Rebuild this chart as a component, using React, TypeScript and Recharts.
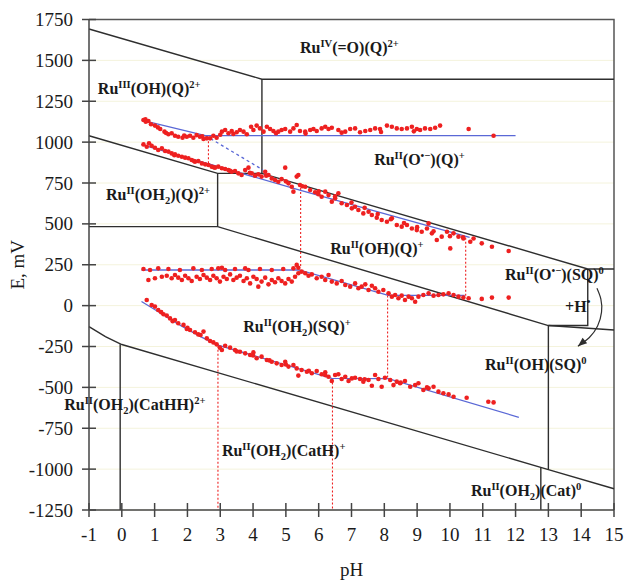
import React from 'react';
import { ComposedChart, XAxis, YAxis, Line, Scatter, CartesianGrid, Label } from 'recharts';

type P = [number, number];

// ---- red experimental points (pH, E mV) ----
const bandUpperHigh: P[] = [
  [0.66,1135],[0.72,1140],[0.73,1125],[0.81,1129],[0.89,1109],[1.01,1101],[1.10,1090],[1.17,1080],[1.30,1064],[1.35,1056],
  [1.42,1048],[1.52,1054],[1.62,1039],[1.72,1033],[1.85,1027],[1.90,1040],[1.98,1033],[2.08,1039],[2.18,1027],[2.28,1043],
  [2.38,1033],[2.45,1036],[2.49,1019],[2.59,1023],
  [2.69,1023],[2.79,1039],[2.89,1027],[3.00,1045],[3.05,1064],[3.15,1074],[3.25,1054],[3.35,1068],[3.40,1050],[3.50,1060],
  [3.60,1074],[3.71,1064],[3.81,1048],[3.94,1094],[4.01,1074],[4.11,1101],[4.21,1084],[4.32,1064],[4.42,1094],[4.52,1080],
  [4.62,1068],[4.70,1055],[4.77,1064],[4.87,1074],[4.98,1080],[5.13,1064],[5.23,1084],[5.33,1105],[5.43,1068],[5.59,1064],
  [5.60,1052],[5.74,1074],[5.84,1080],[5.94,1068],[6.09,1084],[6.20,1094],[6.30,1080],[6.40,1088],[6.60,1074],[6.70,1058],
  [6.81,1064],[6.96,1080],[7.11,1084],[7.26,1060],[7.42,1068],[7.57,1074],[7.72,1084],[7.87,1080],[7.90,1062],[8.08,1101],
  [8.23,1094],[8.38,1084],[8.53,1080],[8.69,1084],[8.84,1094],[8.90,1066],[8.99,1080],[9.09,1074],[9.24,1084],[9.40,1080],
  [9.55,1088],[9.70,1101],[10.57,1080],[11.33,1039],
];

const bandUpperLow: P[] = [
  [0.66,986],[0.76,972],[0.83,993],[0.91,978],[1.01,966],[1.11,952],[1.22,962],[1.32,946],[1.42,942],[1.52,931],
  [1.60,920],[1.62,925],[1.72,917],[1.83,911],[1.93,905],[2.03,901],[2.13,891],[2.20,885],[2.23,880],[2.33,884],
  [2.44,870],[2.54,864],[2.64,860],[2.74,850],[2.80,846],[2.84,844],[2.94,850],[3.05,840],[3.15,836],[3.25,829],
  [3.30,824],[3.35,819],[3.45,823],[3.55,809],[3.65,799],[3.76,829],[3.86,844],[3.90,812],[3.96,809],[4.06,795],
  [4.16,803],[4.26,789],[4.37,819],[4.40,795],[4.47,799],[4.57,778],[4.67,768],[4.77,758],[4.87,774],[4.98,844],
  [5.00,760],[5.08,748],[5.18,727],[5.23,697],[5.33,789],[5.38,799],[5.43,738],[5.50,730],[5.59,727],[5.74,707],
  [5.89,693],[5.99,681],[6.00,700],[6.09,666],[6.20,697],[6.30,676],[6.40,636],[6.50,656],[6.50,668],[6.60,687],
  [6.70,626],[6.86,615],[7.00,630],[7.01,595],[7.11,605],[7.21,585],[7.36,564],[7.40,598],[7.52,574],[7.62,554],
  [7.77,538],[7.80,560],[7.92,524],[8.08,513],[8.20,528],[8.23,534],[8.38,493],[8.53,483],[8.60,505],[8.69,493],
  [8.84,472],[8.99,462],[9.00,480],[9.14,452],[9.30,472],[9.35,503],[9.45,442],[9.50,455],[9.60,401],[9.75,422],
  [9.91,452],[10.00,425],[10.01,350],[10.11,442],[10.26,422],[10.40,418],[10.41,411],[10.62,391],[10.72,411],[10.97,381],
  [11.28,360],[11.79,334],
];

const bandMiddle: P[] = [
  [0.66,224],[0.86,218],[1.11,228],[1.42,224],[1.77,218],[2.18,228],[2.44,218],[2.74,224],[2.94,228],[3.05,232],
  [3.15,218],[3.45,224],[3.76,228],[3.86,218],[4.21,224],[4.57,218],[4.92,224],[5.23,228],[5.33,249],[5.38,232],
  [0.81,157],[1.01,167],[1.22,177],[1.37,183],[1.52,167],[1.62,187],[1.72,171],[1.83,157],[1.93,183],[2.03,167],
  [2.13,151],[2.28,177],[2.38,163],[2.49,187],[2.59,171],[2.69,157],[2.79,183],[2.89,167],[2.99,147],[3.10,177],
  [3.20,163],[3.30,191],[3.40,157],[3.50,171],[3.60,183],[3.71,151],[3.81,167],[3.91,136],[4.01,177],[4.11,163],
  [4.16,116],[4.26,147],[4.37,171],[4.47,130],[4.57,157],[4.67,143],[4.77,167],[4.87,151],[4.98,136],[5.08,163],
  [5.18,147],[5.28,177],[5.38,198],
  [5.48,208],[5.59,198],[5.69,183],[5.79,191],[5.94,167],[6.09,177],[6.20,157],[6.30,187],[6.40,147],[6.55,136],
  [6.70,151],[6.81,126],[6.96,116],[7.11,136],[7.21,106],[7.31,116],[7.42,130],[7.52,96],[7.62,122],[7.72,106],
  [7.82,85],[7.97,96],[8.13,75],[8.23,55],[8.33,65],[8.43,45],[8.53,61],[8.63,34],[8.74,55],[8.84,45],
  [8.94,24],[9.04,55],[9.19,65],[9.35,75],[9.50,61],[9.65,65],[9.80,69],[9.96,75],[10.11,65],[10.26,55],
  [10.41,49],[10.57,45],[10.97,41],[11.28,49],[11.79,49],
];

const bandLower: P[] = [
  [0.76,34],[0.91,4],[1.01,-6],[1.11,-27],[1.20,-40],[1.27,-53],[1.37,-61],[1.47,-78],[1.55,-95],[1.62,-88],
  [1.72,-108],[1.88,-118],[1.98,-143],[2.00,-135],[2.08,-149],[2.23,-163],[2.33,-176],[2.40,-180],[2.49,-159],[2.59,-200],
  [2.69,-216],[2.79,-225],[2.89,-237],[2.99,-257],[3.05,-271],[3.15,-245],[3.30,-257],[3.45,-271],[3.50,-280],[3.60,-282],
  [3.76,-292],[3.91,-302],[4.00,-305],[4.01,-286],[4.11,-322],[4.26,-312],[4.42,-333],[4.50,-335],[4.57,-343],[4.72,-353],
  [4.87,-363],[4.98,-343],[5.00,-360],[5.08,-373],[5.23,-363],[5.33,-384],[5.38,-428],[5.48,-394],[5.64,-404],[5.70,-398],
  [5.79,-414],[5.94,-400],[6.09,-420],[6.20,-408],[6.20,-425],[6.30,-435],[6.40,-461],[6.50,-424],[6.60,-420],[6.70,-449],
  [6.81,-435],[6.91,-461],[7.01,-445],[7.11,-441],[7.26,-449],[7.36,-465],[7.40,-450],[7.52,-455],[7.62,-490],[7.72,-424],
  [7.82,-449],[7.92,-496],[8.02,-441],[8.18,-455],[8.28,-486],[8.38,-465],[8.48,-475],[8.50,-470],[8.63,-461],[8.79,-496],
  [8.94,-486],[9.04,-475],[9.19,-516],[9.30,-500],[9.35,-506],[9.50,-496],[9.65,-526],[9.80,-536],[9.96,-543],[10.11,-557],
  [10.51,-563],[11.17,-588],[11.33,-592],
];

// ---- black boundary lines of the diagram ----
const boundaries: P[][] = [
  [[-1,1692],[4.27,1385],[15,1385]],
  [[4.27,1385],[4.27,809]],
  [[-1,1039],[2.92,809],[4.27,809],[14.2,224],[15,224]],
  [[2.92,809],[2.92,483]],
  [[-1,483],[2.92,483],[13.0,-122],[15,-149]],
  [[13.0,-122],[14.2,-122],[14.2,224]],
  [[13.0,-122],[13.0,-1003]],
  [[-1,-129],[-0.5,-190],[0,-238],[13.0,-1003],[15,-1120]],
  [[-0.05,-236],[-0.05,-1250]],
  [[12.77,-990],[12.77,-1250]],
];
const frame: P[] = [[-1,1750],[15,1750],[15,-1250]];

// ---- red dotted vertical lines ----
const dottedLines: P[][] = [
  [[2.64,1030],[2.64,855]],
  [[5.45,720],[5.45,238]],
  [[10.48,415],[10.48,58]],
  [[8.1,62],[8.1,-447]],
  [[2.93,-245],[2.93,-1250]],
  [[6.42,-445],[6.42,-1250]],
];

// ---- blue fit lines ----
const blueLines: P[][] = [
  [[0.6,1135],[2.55,1040],[12.0,1040]],
  [[0.6,985],[5.45,705],[10.6,418]],
  [[0.6,218],[5.4,218],[8.12,63],[10.45,63]],
  [[0.6,25],[1.2,-48],[1.8,-122],[2.4,-190],[2.9,-240],[6.4,-445],[8.12,-447],[12.1,-683]],
];
const blueDashed: P[] = [[2.55,1040],[4.3,830]];

// ---- curved arrow ----
const arrowPath: P[] = [[14.48,106],[14.6,40],[14.62,-40],[14.5,-125],[14.25,-195],[13.9,-248]];
const arrowTip: P[] = [[13.9,-248]];

const xTicks = [-1,0,1,2,3,4,5,6,7,8,9,10,11,12,13,14,15];
const yTicks = [-1250,-1000,-750,-500,-250,0,250,500,750,1000,1250,1500,1750];

type Part = [string, '' | 'sup' | 'sub'];
const regionLabels: { pH: number; E: number; anchor: 'start' | 'end'; parts: Part[] }[] = [
  { pH: 5.43, E: 1578, anchor: 'start', parts: [['Ru',''],['IV','sup'],['(=O)(Q)',''],['2+','sup']] },
  { pH: -0.73, E: 1325, anchor: 'start', parts: [['Ru',''],['III','sup'],['(OH)(Q)',''],['2+','sup']] },
  { pH: 7.69, E: 891, anchor: 'start', parts: [['Ru',''],['II','sup'],['(O',''],['•−','sup'],[')(Q)',''],['+','sup']] },
  { pH: -0.48, E: 677, anchor: 'start', parts: [['Ru',''],['II','sup'],['(OH',''],['2','sub'],[')(Q)',''],['2+','sup']] },
  { pH: 6.35, E: 345, anchor: 'start', parts: [['Ru',''],['II','sup'],['(OH)(Q)',''],['+','sup']] },
  { pH: 11.68, E: 187, anchor: 'start', parts: [['Ru',''],['II','sup'],['(O',''],['•−','sup'],[')(SQ)',''],['0','sup']] },
  { pH: 13.51, E: -6, anchor: 'start', parts: [['+H',''],['•','sup']] },
  { pH: 11.07, E: -363, anchor: 'start', parts: [['Ru',''],['II','sup'],['(OH)(SQ)',''],['0','sup']] },
  { pH: 3.7, E: -129, anchor: 'start', parts: [['Ru',''],['II','sup'],['(OH',''],['2','sub'],[')(SQ)',''],['+','sup']] },
  { pH: 2.55, E: -608, anchor: 'end', parts: [['Ru',''],['II','sup'],['(OH',''],['2','sub'],[')(CatHH)',''],['2+','sup']] },
  { pH: 3.05, E: -887, anchor: 'start', parts: [['Ru',''],['II','sup'],['(OH',''],['2','sub'],[')(CatH)',''],['+','sup']] },
  { pH: 10.64, E: -1132, anchor: 'start', parts: [['Ru',''],['II','sup'],['(OH',''],['2','sub'],[')(Cat)',''],['0','sup']] },
];

const toPts = (a: P[]) => a.map(([pH, E]) => ({ pH, E }));

const SERIF = "'Liberation Serif', 'Times New Roman', serif";
const AXIS = '#444';
const BLACK = '#2e2e2e';
const RED = '#ee2020';
const BLUE = '#5a68d6';

const renderParts = (parts: Part[], fs: number) => {
  let shift = 0;
  return parts.map(([t, k], i) => {
    const target = k === 'sup' ? -fs * 0.4 : k === 'sub' ? fs * 0.25 : 0;
    const dy = target - shift;
    shift = target;
    return (
      <tspan key={i} dy={dy} fontSize={k ? fs * 0.66 : fs}>
        {t}
      </tspan>
    );
  });
};

const LabelShape = (props: any) => {
  const { cx, cy, payload } = props;
  const fs = 16;
  return (
    <text
      x={cx}
      y={cy + fs * 0.33}
      textAnchor={payload.anchor}
      fontFamily={SERIF}
      fontWeight="bold"
      fontSize={fs}
      fill="#1a1a1a"
    >
      {renderParts(payload.parts, fs)}
    </text>
  );
};

const Dot = (props: any) => <circle cx={props.cx} cy={props.cy} r={2.3} fill={RED} />;

const ArrowHead = (props: any) => {
  const { cx, cy } = props;
  const ang = Math.atan2(9, -11);
  const back = 9;
  const half = 3.6;
  const bx = cx - Math.cos(ang) * back;
  const by = cy - Math.sin(ang) * back;
  const px = -Math.sin(ang) * half;
  const py = Math.cos(ang) * half;
  return <polygon points={`${cx},${cy} ${bx + px},${by + py} ${bx - px},${by - py}`} fill={BLACK} />;
};

const XTick = (props: any) => {
  const { x, y, payload } = props;
  return (
    <g>
      <line x1={x} x2={x} y1={y - 7} y2={y + 7} stroke={AXIS} strokeWidth={1.5} />
      <text x={x} y={y + 31} textAnchor="middle" fontFamily={SERIF} fontSize={19} fill="#1a1a1a">
        {payload.value}
      </text>
    </g>
  );
};

const YTick = (props: any) => {
  const { x, y, payload } = props;
  return (
    <g>
      <line x1={x - 7} x2={x + 7} y1={y} y2={y} stroke={AXIS} strokeWidth={1.5} />
      <text x={x - 16} y={y + 6.5} textAnchor="end" fontFamily={SERIF} fontSize={19} fill="#1a1a1a">
        {payload.value}
      </text>
    </g>
  );
};

const YTitle = (props: any) => {
  const vb = props.viewBox || { x: 0, y: 0, width: 89, height: 490 };
  const cx = vb.x + 17;
  const cy = vb.y + vb.height / 2;
  return (
    <text x={cx} y={cy} transform={`rotate(-90 ${cx} ${cy})`} textAnchor="middle" dominantBaseline="central" fontFamily={SERIF} fontSize={19} fill="#1a1a1a">
      E, mV
    </text>
  );
};

const XTitle = (props: any) => {
  const vb = props.viewBox || { x: 89, y: 510, width: 525, height: 71 };
  const cx = vb.x + vb.width / 2;
  const cy = vb.y + 59;
  return (
    <text x={cx} y={cy} textAnchor="middle" dominantBaseline="central" fontFamily={SERIF} fontSize={19} fill="#1a1a1a">
      pH
    </text>
  );
};

export default function App() {
  return (
    <div style={{ position: 'absolute', left: 0, top: 0, background: '#fff' }}>
      <ComposedChart width={626} height={581} margin={{ top: 19.5, right: 12, bottom: 0, left: 0 }}>
        <CartesianGrid vertical={false} stroke="#f4f3dc" />
        <XAxis
          type="number"
          dataKey="pH"
          domain={[-1, 15]}
          ticks={xTicks}
          height={71}
          tickSize={0}
          tickMargin={0}
          tickLine={false}
          axisLine={{ stroke: AXIS, strokeWidth: 1.5 }}
          tick={<XTick />}
          interval={0}
        >
          <Label content={<XTitle />} />
        </XAxis>
        <YAxis
          type="number"
          dataKey="E"
          domain={[-1250, 1750]}
          ticks={yTicks}
          width={89}
          tickSize={0}
          tickMargin={0}
          tickLine={false}
          axisLine={{ stroke: AXIS, strokeWidth: 1.5 }}
          tick={<YTick />}
          interval={0}
        >
          <Label content={<YTitle />} />
        </YAxis>

        <Line data={toPts(frame)} dataKey="E" stroke="#555" strokeWidth={1.5} dot={false} activeDot={false} isAnimationActive={false} />
        {boundaries.map((b, i) => (
          <Line key={'b' + i} data={toPts(b)} dataKey="E" stroke={BLACK} strokeWidth={1.4} dot={false} activeDot={false} isAnimationActive={false} />
        ))}
        {dottedLines.map((b, i) => (
          <Line key={'d' + i} data={toPts(b)} dataKey="E" stroke={RED} strokeWidth={1.1} strokeDasharray="2 2" dot={false} activeDot={false} isAnimationActive={false} />
        ))}
        {blueLines.map((b, i) => (
          <Line key={'bl' + i} data={toPts(b)} dataKey="E" stroke={BLUE} strokeWidth={1.3} dot={false} activeDot={false} isAnimationActive={false} />
        ))}
        <Line data={toPts(blueDashed)} dataKey="E" stroke={BLUE} strokeWidth={1.3} strokeDasharray="3 3" dot={false} activeDot={false} isAnimationActive={false} />
        <Line data={toPts(arrowPath)} dataKey="E" type="natural" stroke={BLACK} strokeWidth={1.2} dot={false} activeDot={false} isAnimationActive={false} />
        <Scatter data={toPts(arrowTip)} shape={<ArrowHead />} isAnimationActive={false} />

        <Scatter data={toPts(bandUpperHigh)} shape={<Dot />} isAnimationActive={false} />
        <Scatter data={toPts(bandUpperLow)} shape={<Dot />} isAnimationActive={false} />
        <Scatter data={toPts(bandMiddle)} shape={<Dot />} isAnimationActive={false} />
        <Scatter data={toPts(bandLower)} shape={<Dot />} isAnimationActive={false} />

        <Scatter data={regionLabels} dataKey="E" shape={<LabelShape />} isAnimationActive={false} />
      </ComposedChart>
    </div>
  );
}
